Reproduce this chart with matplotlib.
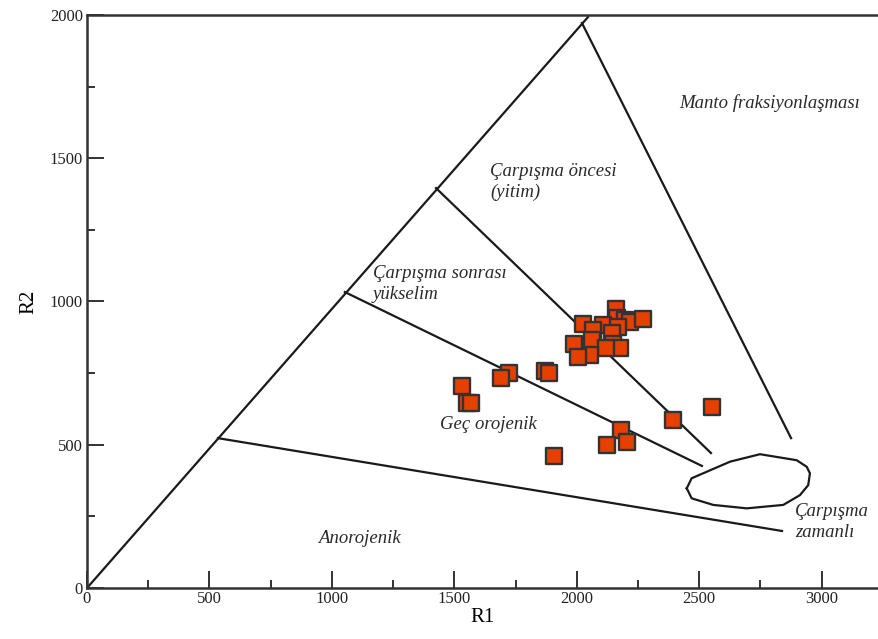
import matplotlib.pyplot as plt
import numpy as np
from matplotlib.ticker import MultipleLocator

# sample points (R1, R2)
r1 = [2160, 2163, 2197, 2217, 2272, 2027, 2108, 2169, 2067, 2142,
      2063, 1989, 2149, 2176, 2119, 2054, 2006, 1724, 1690, 1870,
      1888, 1531, 1550, 1567, 2394, 2553, 2182, 2204, 2122, 1907]
r2 = [973, 941, 935, 929, 938, 920, 917, 911, 900, 889,
      865, 850, 853, 836, 836, 815, 807, 751, 734, 757,
      749, 706, 646, 644, 586, 632, 551, 509, 499, 460]

# field boundaries
bounds = [
    ([0, 2046], [0, 1993]),
    ([2021, 2875], [1972, 523]),
    ([1425, 2548], [1396, 471]),
    ([1053, 2511], [1033, 426]),
    ([535, 2838], [523, 199]),
]
# syn-collision field outline
blob_x = [2449, 2469, 2626, 2748, 2898, 2939, 2952, 2945, 2911, 2843, 2694, 2557, 2469, 2449]
blob_y = [348, 383, 441, 467, 446, 423, 400, 359, 324, 290, 278, 290, 313, 348]

labels = [
    (2417, 1692, 'Manto fraksiyonlaşması'),
    (1646, 1418, 'Çarpışma öncesi\n(yitim)'),
    (1168, 1062, 'Çarpışma sonrası\nyükselim'),
    (1441, 569, 'Geç orojenik'),
    (943, 174, 'Anorojenik'),
    (2891, 230, 'Çarpışma\nzamanlı'),
]

plt.rcParams['font.family'] = ['Liberation Serif', 'DejaVu Serif']

fig = plt.figure(figsize=(8.79, 6.39), dpi=100)
ax = fig.add_axes([87/879, 51/639, 792/879, 573/639])

for bx, by in bounds:
    ax.plot(bx, by, color='#1a1a1a', lw=1.6, zorder=2)
ax.plot(blob_x, blob_y, color='#1a1a1a', lw=1.6, zorder=2)

ax.scatter(r1, r2, marker='s', s=135, facecolor='#e54000', edgecolor='#333333',
           linewidths=1.7, zorder=3)

for lx, ly, t in labels:
    ax.text(lx, ly, t, fontsize=13.5, style='italic', color='#2a2a2a',
            va='center', ha='left', linespacing=1.3)

ax.set_xlim(0, 3234)
ax.set_ylim(0, 2000)
ax.xaxis.set_major_locator(MultipleLocator(500))
ax.xaxis.set_minor_locator(MultipleLocator(250))
ax.yaxis.set_major_locator(MultipleLocator(500))
ax.yaxis.set_minor_locator(MultipleLocator(250))
ax.tick_params(which='both', direction='in', color='#222222', width=1.3,
               labelsize=12, labelcolor='#222222')
ax.tick_params(which='major', length=12)
ax.tick_params(which='minor', length=6)
ax.tick_params(axis='y', pad=3)
ax.tick_params(axis='x', pad=2)
ax.spines['right'].set_visible(False)
for s in ['left', 'bottom', 'top']:
    ax.spines[s].set_linewidth(1.8)
    ax.spines[s].set_color('#333333')

ax.set_xlabel('R1', fontsize=15, labelpad=1)
ax.set_ylabel('R2', fontsize=15, labelpad=8)

fig.savefig('out.png', dpi=100)
